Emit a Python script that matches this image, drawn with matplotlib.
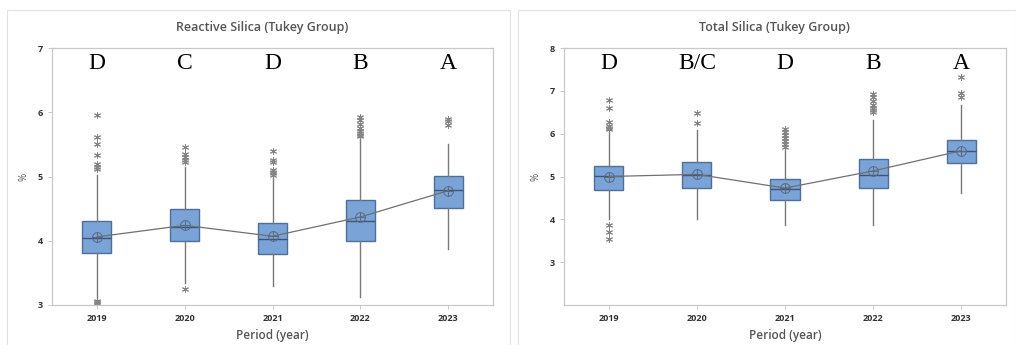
import numpy as np
import matplotlib.pyplot as plt
from matplotlib.patches import Rectangle

years = ['2019', '2020', '2021', '2022', '2023']

# Reactive Silica (%)
rs_q1 = [3.81, 4.00, 3.79, 4.00, 4.51]
rs_med = [4.05, 4.22, 4.02, 4.30, 4.79]
rs_q3 = [4.30, 4.49, 4.27, 4.63, 5.01]
rs_lo = [3.08, 3.34, 3.29, 3.12, 3.87]
rs_hi = [5.03, 5.15, 5.00, 5.60, 5.50]
rs_mean = [4.06, 4.24, 4.07, 4.37, 4.78]
rs_out = [[5.95, 5.61, 5.50, 5.34, 5.19, 5.15, 5.11, 3.06, 3.04, 3.03],
          [5.46, 5.35, 5.31, 5.26, 5.23, 3.25],
          [5.39, 5.25, 5.22, 5.10, 5.07, 5.05, 5.03],
          [5.93, 5.88, 5.81, 5.75, 5.71, 5.68, 5.65, 5.63],
          [5.90, 5.87, 5.80]]
rs_groups = ['D', 'C', 'D', 'B', 'A']

# Total Silica (%)
ts_q1 = [4.69, 4.74, 4.46, 4.73, 5.31]
ts_med = [5.01, 5.04, 4.71, 5.04, 5.60]
ts_q3 = [5.24, 5.34, 4.93, 5.40, 5.86]
ts_lo = [4.00, 4.01, 3.86, 3.86, 4.61]
ts_hi = [6.05, 6.09, 5.66, 6.32, 6.67]
ts_mean = [5.00, 5.05, 4.73, 5.13, 5.60]
ts_out = [[6.79, 6.59, 6.28, 6.17, 6.13, 6.10, 3.87, 3.71, 3.54],
          [6.49, 6.24],
          [6.12, 6.05, 5.97, 5.90, 5.82, 5.75, 5.70],
          [6.93, 6.86, 6.76, 6.68, 6.61, 6.55, 6.50],
          [7.33, 6.94, 6.85]]
ts_groups = ['D', 'B/C', 'D', 'B', 'A']

W, H = 1016, 345
fig = plt.figure(figsize=(W / 100, H / 100), dpi=100)

# panel frames
for x0, x1 in [(7, 510), (518, 1016)]:
    fig.patches.append(Rectangle((x0 / W, 0), (x1 - x0) / W, 1 - 10 / H,
                                 transform=fig.transFigure, fill=False,
                                 edgecolor='#e2e2e2', lw=0.8))

fill = '#7aa3d8'
edge = '#4f6f96'
gray = '#7a7a7a'
txt = '#333333'


def panel(rect, q1, med, q3, lo, hi, mean, out, groups, ylim, yticks, title, tcx):
    ax = fig.add_axes(rect)
    stats = []
    for i in range(len(years)):
        stats.append(dict(q1=q1[i], med=med[i], q3=q3[i], whislo=lo[i],
                          whishi=hi[i], fliers=out[i], mean=mean[i]))
    pos = np.arange(1, len(years) + 1)
    ax.bxp(stats, positions=pos, widths=0.33, patch_artist=True,
           showcaps=False, showmeans=False,
           boxprops=dict(facecolor=fill, edgecolor=edge, lw=1.0),
           medianprops=dict(color='#3d5473', lw=1.0),
           whiskerprops=dict(color=gray, lw=1.0),
           flierprops=dict(marker=(6, 2, 0), markersize=5, markeredgewidth=0.7,
                           markeredgecolor='#858585', markerfacecolor='none'))
    ax.plot(pos, mean, color='#707070', lw=0.9, zorder=4)
    ax.plot(pos, mean, ls='none', marker='o', ms=7, mfc='none', mec='#5a6a80', mew=0.7, zorder=5)
    ax.plot(pos, mean, ls='none', marker='+', ms=7, mec='#5a6a80', mew=0.7, zorder=5)
    for p, g in zip(pos, groups):
        ax.text(p, 0.94, g, transform=ax.get_xaxis_transform(), ha='center', va='center',
                family='Liberation Serif', fontsize=17, color='black')
    ax.set_xlim(0.49, 5.51)
    ax.set_ylim(*ylim)
    ax.set_yticks(yticks)
    ax.set_xticks(pos)
    ax.set_xticklabels(years)
    ax.tick_params(labelsize=6.5, colors='#c0c0c0', labelcolor=txt, length=3, width=0.6)
    for lab in ax.get_xticklabels() + ax.get_yticklabels():
        lab.set_fontweight('bold')
        lab.set_family('Open Sans')
    for s in ax.spines.values():
        s.set_color('#c8c8c8')
        s.set_linewidth(0.9)
    ax.set_xlabel('Period (year)', family='Open Sans', fontsize=8.5, color='#555555',
                  fontweight='semibold', labelpad=4)
    ax.set_ylabel('%', family='Open Sans', fontsize=7, color='#555555', labelpad=6)
    fig.text(tcx / W, 1 - 27 / H, title, ha='center', va='center', family='Open Sans',
             fontsize=9, fontweight='semibold', color='#555555')
    return ax


panel([52 / W, 1 - 305 / H, 441 / W, 257 / H], rs_q1, rs_med, rs_q3, rs_lo, rs_hi,
      rs_mean, rs_out, rs_groups, (3, 7), [3, 4, 5, 6, 7], 'Reactive Silica (Tukey Group)', 262)
panel([564 / W, 1 - 305 / H, 442 / W, 257 / H], ts_q1, ts_med, ts_q3, ts_lo, ts_hi,
      ts_mean, ts_out, ts_groups, (2, 8), [3, 4, 5, 6, 7, 8], 'Total Silica (Tukey Group)', 774)

fig.savefig('out.png', dpi=100)
